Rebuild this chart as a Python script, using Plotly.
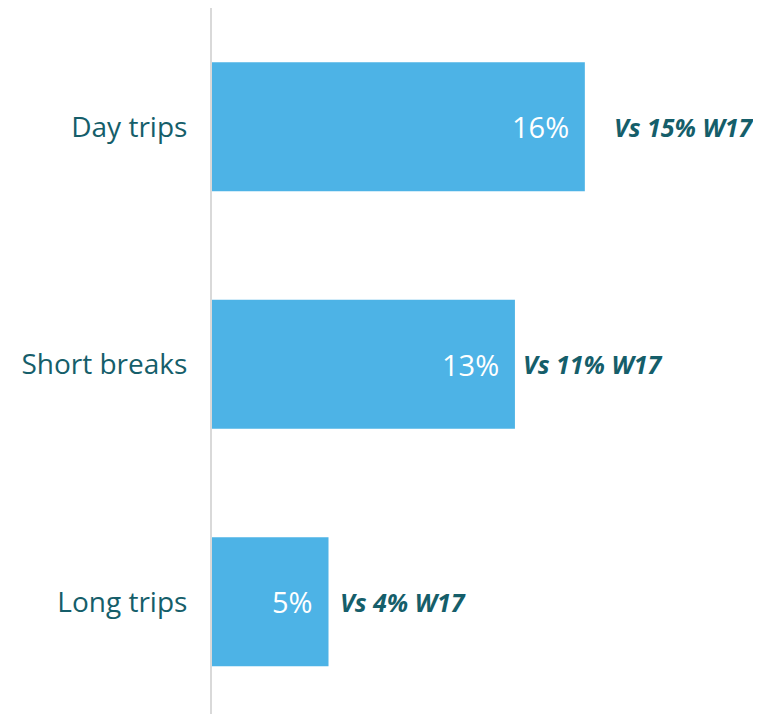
import plotly.graph_objects as go

categories = ["Day trips", "Short breaks", "Long trips"]
values = [16, 13, 5]
value_labels = ["16%", "13%", "5%"]
comparison_labels = ["Vs 15% W17", "Vs 11% W17", "Vs 4% W17"]
comparison_shift = [27, 6, 9]

BAR = "#4DB3E6"
TEAL = "#155E6A"
FONT = "Open Sans"

fig = go.Figure()
fig.add_trace(go.Bar(
    x=values, y=categories, orientation="h",
    marker=dict(color=BAR, line=dict(width=0)),
    width=0.543, hoverinfo="skip",
))

for c, v, lab, comp, sh in zip(categories, values, value_labels, comparison_labels, comparison_shift):
    fig.add_annotation(x=v, y=c, text=lab, xanchor="right", yanchor="middle",
                       xshift=-14, showarrow=False,
                       font=dict(family=FONT, size=29, color="white"))
    fig.add_annotation(x=v, y=c, text="<b><i>" + comp + "</i></b>", xanchor="left",
                       yanchor="middle", xshift=sh, showarrow=False,
                       font=dict(family=FONT, size=25, color=TEAL))

fig.update_layout(
    width=753, height=714,
    margin=dict(l=204, r=0, t=0, b=0),
    paper_bgcolor="white", plot_bgcolor="white",
    showlegend=False,
    xaxis=dict(range=[0, 23.56], visible=False, fixedrange=True),
    yaxis=dict(range=[2.506, -0.5], showgrid=False, zeroline=False,
               showline=True, linecolor="#D9D9D9", linewidth=2,
               ticks="outside", ticklen=17, tickcolor="rgba(0,0,0,0)",
               tickfont=dict(family=FONT, size=28, color=TEAL)),
)

fig.write_html("out.html")
